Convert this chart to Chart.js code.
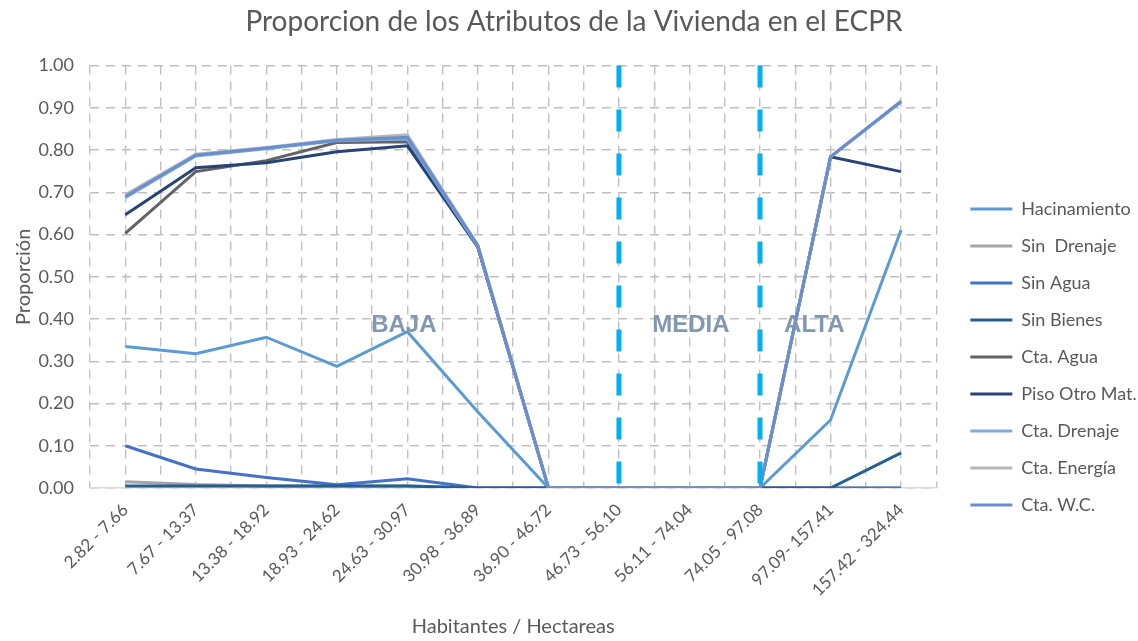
<!DOCTYPE html>
<html lang="es">
<head>
<meta charset="UTF-8">
<title>Proporcion de los Atributos de la Vivienda en el ECPR</title>
<script src="https://cdn.jsdelivr.net/npm/chart.js@4.4.1/dist/chart.umd.min.js"></script>
<style>
  html, body { margin: 0; padding: 0; background: #fff; }
  #wrap { width: 1138px; height: 641px; }
</style>
</head>
<body>
<div id="wrap"><canvas id="myChart"></canvas></div>
<script>
// rangos de densidad (hab/ha)
const rangos = ['2.82 - 7.66', '7.67 - 13.37', '13.38 - 18.92', '18.93 - 24.62', '24.63 - 30.97',
  '30.98 - 36.89', '36.90 - 46.72', '46.73 - 56.10', '56.11 - 74.04', '74.05 - 97.08',
  '97.09- 157.41', '157.42 - 324.44'];

const hacinamiento = [0.335, 0.318, 0.357, 0.288, 0.370, 0.180, 0, 0, 0, 0, 0.161, 0.611];
const sinDrenaje   = [0.015, 0.008, 0.005, 0.005, 0.005, 0, 0, 0, 0, 0, 0, 0];
const sinAgua      = [0.100, 0.045, 0.025, 0.008, 0.022, 0, 0, 0, 0, 0, 0, 0];
const sinBienes    = [0.005, 0.005, 0.005, 0.005, 0.005, 0, 0, 0, 0, 0, 0, 0.083];
const ctaAgua      = [0.603, 0.749, 0.775, 0.818, 0.820, 0.570, 0, 0, 0, 0, 0.784, 0.915];
const pisoOtroMat  = [0.647, 0.758, 0.770, 0.796, 0.810, 0.570, 0, 0, 0, 0, 0.784, 0.749];
const ctaDrenaje   = [0.687, 0.786, 0.803, 0.822, 0.826, 0.572, 0, 0, 0, 0, 0.784, 0.915];
const ctaEnergia   = [0.694, 0.790, 0.806, 0.825, 0.836, 0.575, 0, 0, 0, 0, 0.784, 0.915];
const ctaWC        = [0.690, 0.788, 0.805, 0.823, 0.830, 0.574, 0, 0, 0, 0, 0.784, 0.915];

const nombres = ['Hacinamiento', 'Sin  Drenaje', 'Sin Agua', 'Sin Bienes', 'Cta. Agua',
  'Piso Otro Mat.', 'Cta. Drenaje', 'Cta. Energía', 'Cta. W.C.'];
const series = [hacinamiento, sinDrenaje, sinAgua, sinBienes, ctaAgua, pisoOtroMat, ctaDrenaje, ctaEnergia, ctaWC];
const colores = ['#5b9bd5', '#a5a5a5', '#4472c4', '#255e91', '#636363', '#264478', '#7cafdd', '#b7b7b7', '#698ed0'];

// limites entre densidad baja / media / alta
const divisiones = ['46.73 - 56.10', '74.05 - 97.08'];

const gris = '#595959';
const fuente = 'Lato, "Open Sans", sans-serif';
const rejilla = '#c0c0c0';

const zonasPlugin = {
  id: 'zonas',
  afterDatasetsDraw(chart, args, opts) {
    const {ctx, chartArea} = chart;
    const x = chart.scales.x, y = chart.scales.y;
    ctx.save();
    ctx.strokeStyle = '#00b0f0';
    ctx.lineWidth = 5;
    ctx.setLineDash([22, 22]);
    divisiones.forEach(d => {
      const px = x.getPixelForValue(rangos.indexOf(d));
      ctx.beginPath();
      ctx.moveTo(px, chartArea.top);
      ctx.lineTo(px, chartArea.bottom);
      ctx.stroke();
    });
    ctx.setLineDash([]);
    ctx.fillStyle = '#8497b0';
    ctx.font = 'bold 24px "Liberation Sans", Arial, sans-serif';
    ctx.textAlign = 'center';
    ctx.textBaseline = 'middle';
    opts.textos.forEach(t => {
      ctx.fillText(t.texto, x.getPixelForValue(t.pos), y.getPixelForValue(opts.nivel));
    });
    ctx.restore();
  }
};

const ctx = document.getElementById('myChart').getContext('2d');
new Chart(ctx, {
  type: 'line',
  data: {
    labels: rangos,
    datasets: series.map((s, i) => ({
      label: nombres[i],
      data: s,
      borderColor: colores[i],
      backgroundColor: colores[i],
      borderWidth: 3,
      pointRadius: 0,
      tension: 0,
      order: -i
    }))
  },
  options: {
    responsive: true,
    maintainAspectRatio: false,
    animation: false,
    layout: { padding: { left: 8, right: -2, top: 0, bottom: -2 } },
    plugins: {
      title: {
        display: true,
        text: 'Proporcion de los Atributos de la Vivienda en el ECPR',
        color: gris,
        font: { family: fuente, size: 28, weight: 'normal' },
        padding: { top: 5, bottom: 27 }
      },
      legend: {
        position: 'right',
        title: { display: true, text: '', font: { size: 1 }, padding: { top: 70, bottom: 0 } },
        labels: {
          color: gris,
          font: { family: fuente, size: 18 },
          usePointStyle: true,
          pointStyle: 'line',
          pointStyleWidth: 42,
          padding: 19,
          sort: (a, b) => a.datasetIndex - b.datasetIndex
        }
      },
      tooltip: { enabled: false },
      zonas: {
        nivel: 0.386,
        textos: [
          { texto: 'BAJA', pos: 3.95 },
          { texto: 'MEDIA', pos: 8.02 },
          { texto: 'ALTA', pos: 9.77 }
        ]
      }
    },
    scales: {
      x: {
        offset: true,
        grid: { offset: false, color: rejilla, lineWidth: 1.4, drawTicks: false },
        border: { display: true, color: '#d9d9d9', width: 1.5, dash: [9, 7] },
        ticks: { color: gris, font: { family: fuente, size: 17 }, minRotation: 45, maxRotation: 45, padding: 12 },
        title: { display: true, text: 'Habitantes / Hectareas', color: gris, font: { family: fuente, size: 20 }, padding: { top: 4 } },
        afterFit: s => { s.height = 155; }
      },
      x2: {
        position: 'bottom',
        offset: true,
        grid: { offset: true, color: rejilla, lineWidth: 1.4, drawTicks: false },
        border: { display: false, dash: [9, 7] },
        ticks: { display: false },
        afterFit: s => { s.height = 0; }
      },
      y: {
        min: 0,
        max: 1,
        ticks: { stepSize: 0.1, color: gris, font: { family: fuente, size: 18 }, padding: 16, callback: v => v.toFixed(2) },
        grid: { color: rejilla, lineWidth: 1.4, drawTicks: false },
        border: { display: false, dash: [9, 7] },
        title: { display: true, text: 'Proporción', color: gris, font: { family: fuente, size: 20 }, padding: { bottom: 2 } },
        afterFit: s => { s.width = 82; }
      },
      // hueco entre el area del grafico y la leyenda
      hueco: {
        position: 'right',
        grid: { display: false, drawTicks: false },
        border: { display: false },
        ticks: { display: false },
        afterFit: s => { s.width = 15; }
      }
    }
  },
  plugins: [zonasPlugin]
});
</script>
</body>
</html>
